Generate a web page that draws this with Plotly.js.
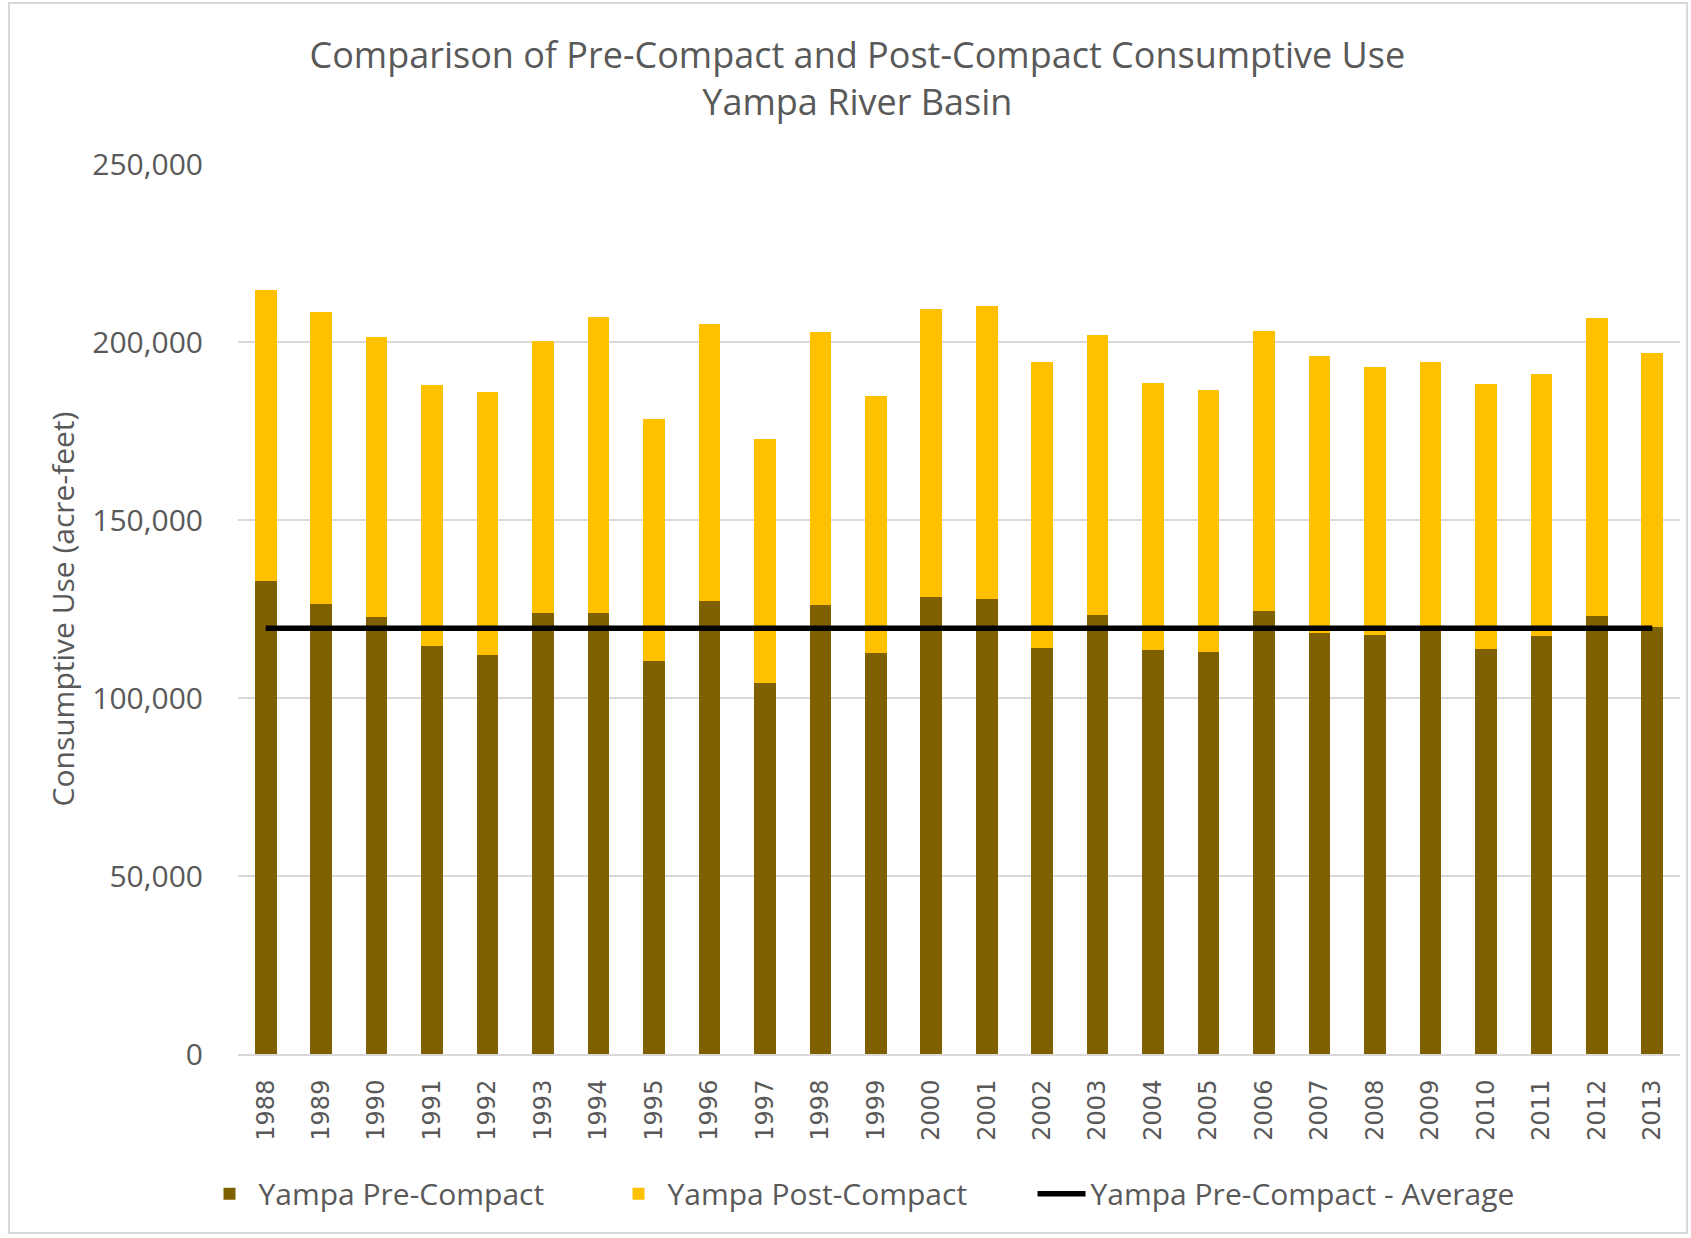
<!DOCTYPE html>
<html>
<head>
<meta charset="utf-8">
<script src="https://cdn.plot.ly/plotly-3.0.1.min.js"></script>
<style>
  html, body { margin: 0; padding: 0; background: #ffffff; }
  #chart { width: 1691px; height: 1238px; }
</style>
</head>
<body>
<div id="chart"></div>
<script>
const years = ['1988','1989','1990','1991','1992','1993','1994','1995','1996','1997','1998','1999','2000',
               '2001','2002','2003','2004','2005','2006','2007','2008','2009','2010','2011','2012','2013'];
const preCompact = [132800,126400,122800,114600,112000,123800,123800,110400,127200,104200,126100,112600,128500,
                    127800,114000,123400,113400,112900,124400,118400,117700,119800,113700,117400,123000,120000];
const totalUse   = [214700,208300,201300,187800,185900,200300,207000,178500,205100,172800,202700,184800,209400,
                    210100,194300,202000,188500,186500,203000,196000,193000,194300,188200,190900,206700,196900];
const postCompact = totalUse.map((t, i) => t - preCompact[i]);
const preAverage = 119600;
const avgX = [years[0], years[years.length - 1]];
const avgY = [preAverage, preAverage];

const font = "'Open Sans', 'Segoe UI', sans-serif";
const gray = '#595959';

const traces = [
  { type: 'bar', name: 'Yampa Pre-Compact', x: years, y: preCompact,
    marker: { color: '#7F6000', line: { width: 0 } } },
  { type: 'bar', name: 'Yampa Post-Compact', x: years, y: postCompact,
    marker: { color: '#FFC000', line: { width: 0 } } },
  { type: 'scatter', mode: 'lines', name: 'Yampa Pre-Compact - Average', x: avgX, y: avgY,
    line: { color: '#000000', width: 5.5 }, legend: 'legend2' }
];

const legendCommon = {
  orientation: 'h', yanchor: 'middle', y: -0.157, xanchor: 'left',
  font: { family: font, size: 30, color: gray }, traceorder: 'normal',
  itemwidth: 48, bgcolor: 'rgba(0,0,0,0)'
};

const layout = {
  width: 1691, height: 1238,
  margin: { l: 238, r: 11, t: 164, b: 184 },
  paper_bgcolor: '#ffffff', plot_bgcolor: '#ffffff',
  barmode: 'stack', bargap: 0.61,
  showlegend: true,
  title: {
    text: 'Comparison of Pre-Compact and Post-Compact Consumptive Use<br>Yampa River Basin',
    font: { family: font, size: 36, color: gray },
    xref: 'container', x: 0.507, xanchor: 'center',
    yref: 'container', y: 0.945, yanchor: 'middle'
  },
  xaxis: {
    type: 'category', tickangle: -90,
    tickfont: { family: "'DejaVu Sans', sans-serif", size: 24, color: gray },
    showgrid: false, zeroline: false, showline: true, linecolor: '#d9d9d9', linewidth: 2,
    ticks: '', ticklabelstandoff: 14, fixedrange: true
  },
  yaxis: {
    range: [0, 250000], tickvals: [0, 50000, 100000, 150000, 200000, 250000],
    ticktext: ['0', '50,000', '100,000', '150,000', '200,000', '250,000'],
    tickfont: { family: font, size: 30, color: gray },
    showgrid: true, gridcolor: '#d9d9d9', gridwidth: 2, zeroline: false, showline: false,
    ticks: '', ticklabelstandoff: 34,
    title: { text: 'Consumptive Use (acre-feet)', font: { family: font, size: 30, color: gray }, standoff: 8 },
    automargin: false
  },
  legend: Object.assign({}, legendCommon, { x: -0.026, entrywidth: 346 }),
  legend2: Object.assign({}, legendCommon, { x: 0.551 }),
  shapes: [
    { type: 'rect', xref: 'paper', yref: 'paper', x0: -0.1588, x1: 1.0049, y0: -0.201, y1: 1.181,
      line: { color: '#d9d9d9', width: 2 }, fillcolor: 'rgba(0,0,0,0)', layer: 'below' }
  ]
};

Plotly.newPlot('chart', traces, layout, { displayModeBar: false, staticPlot: true });
</script>
</body>
</html>
